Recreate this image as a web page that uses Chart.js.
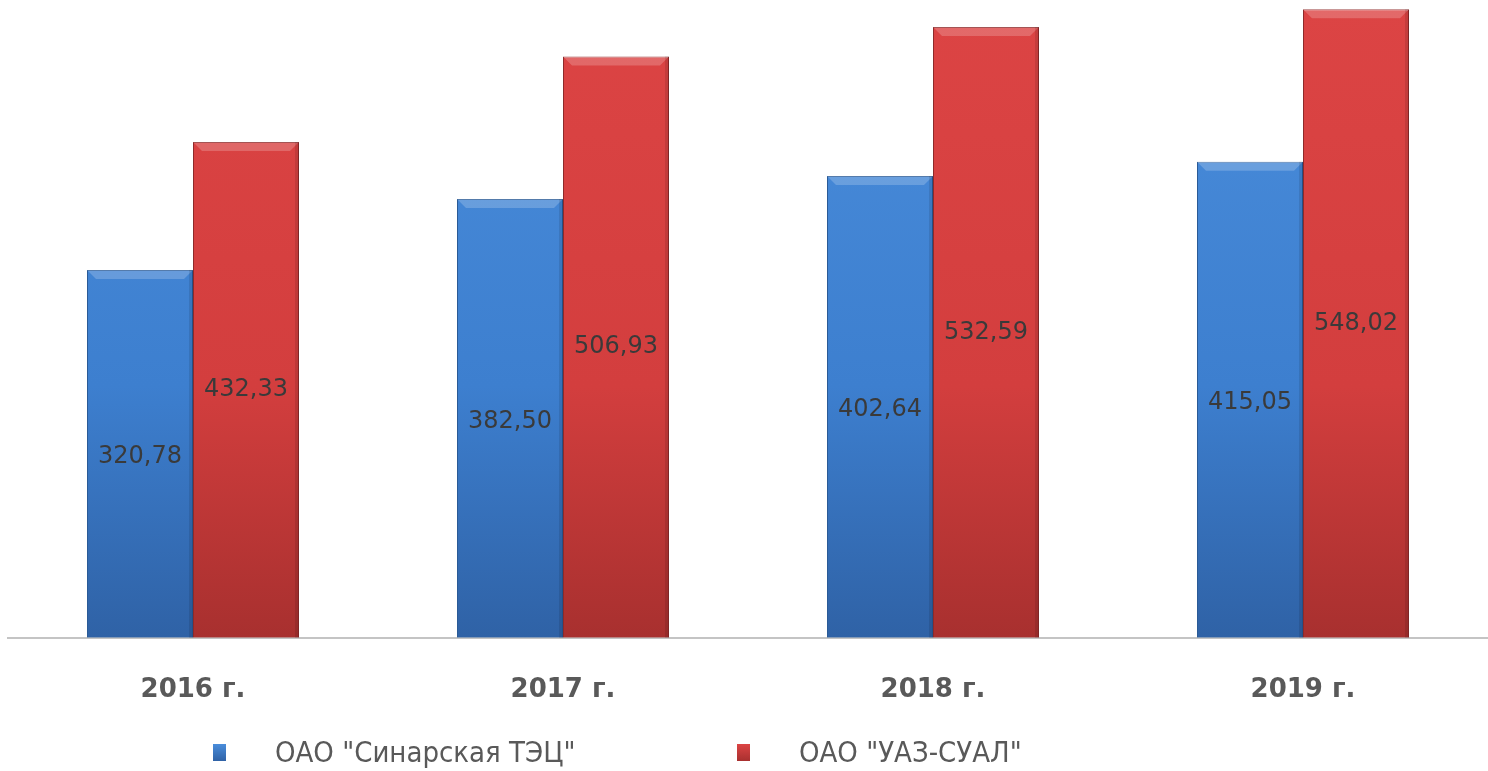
<!DOCTYPE html>
<html>
<head>
<meta charset="utf-8">
<script src="https://cdn.jsdelivr.net/npm/chart.js@4.4.0/dist/chart.umd.min.js"></script>
<style>
  html, body { margin: 0; padding: 0; background: #fff; overflow: hidden; }
  #wrap { position: relative; width: 1488px; height: 771px; }
  #chart { position: absolute; left: 0; top: 0; }
  #legend { position: absolute; left: 0; top: 733px; width: 1488px; height: 38px; font-family: "DejaVu Sans Condensed", "Liberation Sans Narrow", "Open Sans", sans-serif; font-size: 29px; color: #595959; }
  .item { position: absolute; top: 0; display: flex; align-items: center; height: 38px; }
  .box { width: 13px; height: 17px; margin-right: 49px; }
</style>
</head>
<body>
<div id="wrap">
  <canvas id="chart" width="1488" height="743"></canvas>
  <div id="legend"></div>
</div>
<script>
document.addEventListener("DOMContentLoaded", () => {
  // ================================
  // DATA
  // ================================
  const years = ["2016 г.", "2017 г.", "2018 г.", "2019 г."];
  const seriesNames = ['ОАО "Синарская ТЭЦ"', 'ОАО "УАЗ-СУАЛ"'];
  const sinarskaya = [320.78, 382.5, 402.64, 415.05];
  const uazSual = [432.33, 506.93, 532.59, 548.02];

  // ================================
  // COLOURS
  // ================================
  const palette = [
    { top: "#4a8ddb", mid: "#3d7fcf", bottom: "#2f62a6", edge: "#2a5a96" },
    { top: "#dc4444", mid: "#d33e3e", bottom: "#a8302f", edge: "#8e2a2a" },
  ];
  const legendX = [213, 737];

  const barFill = (idx) => (ctx) => {
    const area = ctx.chart.chartArea;
    if (!area) return palette[idx].mid;
    const g = ctx.chart.ctx.createLinearGradient(0, area.top, 0, area.bottom);
    g.addColorStop(0, palette[idx].top);
    g.addColorStop(0.6, palette[idx].mid);
    g.addColorStop(1, palette[idx].bottom);
    return g;
  };

  // ================================
  // PLUGINS: bevel + value labels
  // ================================
  const bevelAndLabels = {
    id: "bevelAndLabels",
    afterDatasetsDraw(chart) {
      const c = chart.ctx;
      chart.data.datasets.forEach((ds, di) => {
        const meta = chart.getDatasetMeta(di);
        meta.data.forEach((bar, i) => {
          const left = bar.x - bar.width / 2;
          const right = bar.x + bar.width / 2;
          // top bevel highlight
          c.save();
          c.fillStyle = "rgba(255,255,255,0.2)";
          c.beginPath();
          c.moveTo(left, bar.y);
          c.lineTo(right, bar.y);
          c.lineTo(right - 9, bar.y + 9);
          c.lineTo(left + 9, bar.y + 9);
          c.closePath();
          c.fill();
          c.fillStyle = "rgba(0,0,0,0.10)";
          c.fillRect(right - 4, bar.y, 4, bar.base - bar.y);
          c.restore();

          // value label
          const txt = ds.data[i].toFixed(2).replace(".", ",");
          c.save();
          c.font = "24px 'DejaVu Sans'";
          c.fillStyle = "#3a3a3a";
          c.textAlign = "center";
          c.textBaseline = "middle";
          c.fillText(txt, bar.x, (bar.y + bar.base) / 2 + (di === 0 ? 3 : 0));
          c.restore();
        });
      });
    },
  };

  // ================================
  // CHART
  // ================================
  const chart = new Chart(document.getElementById("chart"), {
    type: "bar",
    data: {
      labels: years,
      datasets: [
        {
          label: seriesNames[0],
          data: sinarskaya,
          backgroundColor: barFill(0),
          borderColor: palette[0].edge,
          borderWidth: 1,
        },
        {
          label: seriesNames[1],
          data: uazSual,
          backgroundColor: barFill(1),
          borderColor: palette[1].edge,
          borderWidth: 1,
        },
      ],
    },
    options: {
      responsive: false,
      animation: false,
      categoryPercentage: 0.573,
      barPercentage: 1,
      layout: { padding: { top: 7, left: 8, right: 0, bottom: 8 } },
      plugins: {
        legend: { display: false },
        tooltip: { enabled: false },
      },
      scales: {
        x: {
          grid: { display: false },
          border: { color: "#c4c4c4", width: 2 },
          ticks: {
            color: "#595959",
            padding: 29,
            font: { family: "'DejaVu Sans'", size: 26, weight: "bold" },
          },
        },
        y: {
          display: false,
          min: 0,
          max: 550,
        },
      },
    },
    plugins: [bevelAndLabels],
  });

  // ================================
  // LEGEND
  // ================================
  const legend = document.getElementById("legend");
  chart.data.datasets.forEach((ds, i) => {
    const item = document.createElement("div");
    item.className = "item";
    item.style.left = legendX[i] + "px";
    const box = document.createElement("span");
    box.className = "box";
    box.style.background = "linear-gradient(" + palette[i].top + ", " + palette[i].bottom + ")";
    const label = document.createElement("span");
    label.textContent = ds.label;
    item.appendChild(box);
    item.appendChild(label);
    legend.appendChild(item);
  });
});
</script>
</body>
</html>
